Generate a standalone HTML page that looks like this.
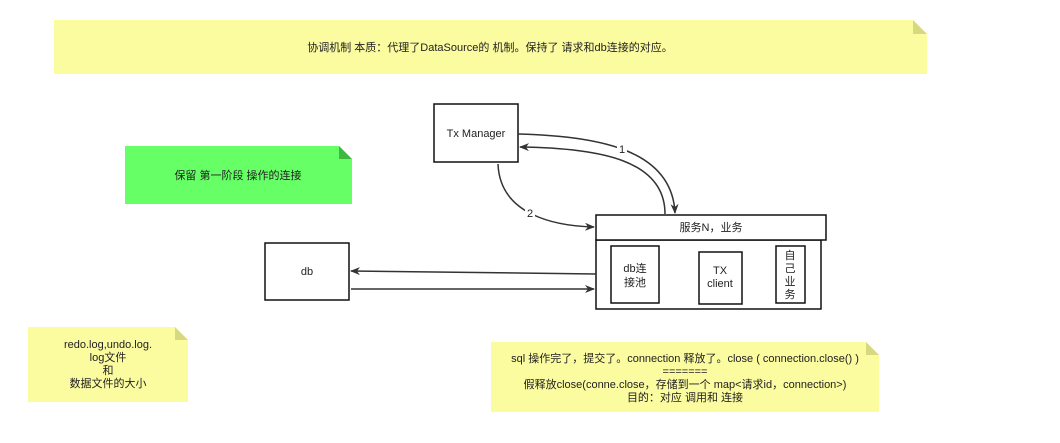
<!DOCTYPE html>
<html><head><meta charset="utf-8"><style>
body{margin:0;background:#fff;width:1060px;height:443px;overflow:hidden}
svg{display:block}
text{font-family:"Liberation Sans","Noto Sans CJK SC",sans-serif;font-size:11px;fill:#222}
</style></head><body>
<svg width="1060" height="443" viewBox="0 0 1060 443">
<defs><marker id="a" markerWidth="10" markerHeight="8" refX="9" refY="4" orient="auto" markerUnits="userSpaceOnUse"><path d="M0,0 L10,4 L0,8 L3,4z" fill="#333"/></marker></defs>
<!-- notes -->
<path d="M54,20 H913 L927,34 V74 H54Z" fill="#fbfba0"/><path d="M913,20 V34 H927Z" fill="#d8d880"/>
<text x="490" y="51" text-anchor="middle">协调机制 本质：代理了DataSource的 机制。保持了 请求和db连接的对应。</text>
<path d="M125,146 H339 L352,159 V204 H125Z" fill="#66ff66"/><path d="M339,146 V159 H352Z" fill="#3fb83f"/>
<text x="238" y="179" text-anchor="middle">保留 第一阶段 操作的连接</text>
<path d="M28,327 H175 L188,340 V402 H28Z" fill="#fbfba0"/><path d="M175,327 V340 H188Z" fill="#d8d880"/>
<text x="108" y="348" text-anchor="middle">redo.log,undo.log.</text>
<text x="108" y="361" text-anchor="middle">log文件</text>
<text x="108" y="374" text-anchor="middle">和</text>
<text x="108" y="387" text-anchor="middle">数据文件的大小</text>
<path d="M491,342 H866 L879,355 V412 H491Z" fill="#fbfba0"/><path d="M866,342 V355 H879Z" fill="#d8d880"/>
<text x="685" y="362" text-anchor="middle">sql 操作完了，提交了。connection 释放了。close ( connection.close() )</text>
<text x="685" y="375" text-anchor="middle">=======</text>
<text x="685" y="388" text-anchor="middle">假释放close(conne.close，存储到一个  map&lt;请求id，connection&gt;)</text>
<text x="685" y="401" text-anchor="middle">目的：对应 调用和 连接</text>
<!-- boxes -->
<g fill="#fff" stroke="#111" stroke-width="1.5">
<rect x="434" y="104" width="84" height="58"/>
<rect x="596" y="240" width="225" height="69"/>
<rect x="596" y="215" width="230" height="25"/>
<rect x="611" y="246" width="48" height="57"/>
<rect x="699" y="252" width="43" height="52"/>
<rect x="776" y="246" width="29" height="57"/>
<rect x="265" y="243" width="84" height="57"/>
</g>
<text x="476" y="137" text-anchor="middle">Tx Manager</text>
<text x="711" y="231" text-anchor="middle">服务N，业务</text>
<text x="635" y="272" text-anchor="middle">db连</text>
<text x="635" y="286" text-anchor="middle">接池</text>
<text x="720" y="274" text-anchor="middle">TX</text>
<text x="720" y="287" text-anchor="middle">client</text>
<text x="790" y="259" text-anchor="middle">自</text>
<text x="790" y="272" text-anchor="middle">己</text>
<text x="790" y="285" text-anchor="middle">业</text>
<text x="790" y="298" text-anchor="middle">务</text>
<text x="307" y="275" text-anchor="middle">db</text>
<!-- connectors -->
<g fill="none" stroke="#333" stroke-width="1.5">
<path d="M518,134 C600,136 672,150 675,213" marker-end="url(#a)"/>
<path d="M665,214 C665,160 600,148 520,147" marker-end="url(#a)"/>
<path d="M498,164 C500,215 555,226 594,227" marker-end="url(#a)"/>
<path d="M596,274 L351,271" marker-end="url(#a)"/>
<path d="M351,289 L594,289" marker-end="url(#a)"/>
</g>
<rect x="617" y="143" width="10" height="12" fill="#fff"/><text x="622" y="153" text-anchor="middle">1</text>
<rect x="525" y="207" width="10" height="12" fill="#fff"/><text x="530" y="217" text-anchor="middle">2</text>
</svg>
</body></html>
